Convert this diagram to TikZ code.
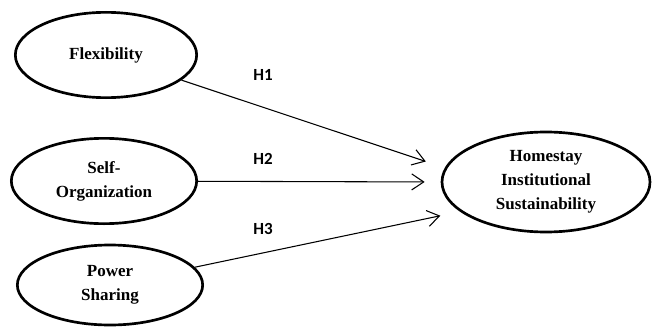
\documentclass[tikz,border=0pt]{standalone}
\usepackage{fontspec}
\setmainfont{Liberation Serif}
\newfontfamily\hfont{Carlito}
\usepackage{tikz}
\usetikzlibrary{arrows.meta,shapes.geometric}

\begin{document}
\begin{tikzpicture}[x=0.75pt,y=-0.75pt,
  construct/.style={ellipse,draw,line width=2pt,inner sep=0pt,align=center,
    font=\fontsize{12.75}{18}\selectfont\bfseries},
  hyp/.style={font=\hfont\fontsize{12.75}{15}\selectfont\bfseries},
  path/.style={line width=0.8pt,-{Straight Barb[length=9pt,width=12pt,line width=0.8pt]}}]
\useasboundingbox (0,0) rectangle (652,328);
\node[construct,minimum width=136pt,minimum height=64pt] (1) at (106,55) {Flexibility};
\node[construct,minimum width=139pt,minimum height=64pt] (2) at (104,181) {Self-\\Organization};
\node[construct,minimum width=139pt,minimum height=60pt] (3) at (110,285) {Power\\Sharing};
\node[construct,minimum width=156pt,minimum height=75pt] (4) at (546,182) {Homestay\\Institutional\\Sustainability};
\node[hyp] (5) at (263,75) {H1};
\node[hyp] (6) at (263,159) {H2};
\node[hyp] (7) at (263,229) {H3};
\draw[path,shorten >=15pt] (1) -- (4.172);
\draw[path,shorten >=12pt] (2) -- (4.west);
\draw[path,shorten >=15pt] (3) -- (4.199);
\end{tikzpicture}
\end{document}
